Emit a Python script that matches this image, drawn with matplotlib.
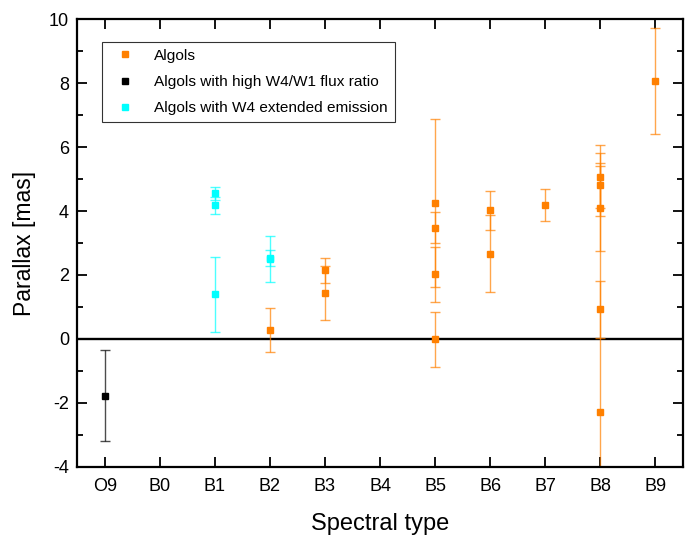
import matplotlib
matplotlib.use("Agg")
import matplotlib.pyplot as plt
from matplotlib.ticker import MultipleLocator
import numpy as np

plt.rcParams['font.family'] = ['Liberation Sans', 'DejaVu Sans']
plt.rcParams['axes.unicode_minus'] = False

spectral_labels = ["O9", "B0", "B1", "B2", "B3", "B4", "B5", "B6", "B7", "B8", "B9"]

# Algols (orange)
algol_type = ["B2", "B3", "B3", "B5", "B5", "B5", "B5", "B6", "B6", "B7",
              "B8", "B8", "B8", "B8", "B8", "B9"]
algol_plx = [0.27, 2.14, 1.44, 4.24, 3.48, 2.02, -0.01, 4.02, 2.67, 4.18,
             5.08, 4.82, 4.08, 0.92, -2.30, 8.07]
algol_err = [0.68, 0.38, 0.85, 2.63, 0.49, 0.86, 0.86, 0.60, 1.20, 0.50,
             1.00, 0.99, 1.32, 0.90, 7.80, 1.66]

# Algols with high W4/W1 flux ratio (black)
high_type = ["O9"]
high_plx = [-1.78]
high_err = [1.43]

# Algols with W4 extended emission (cyan)
ext_type = ["B1", "B1", "B1", "B2", "B2"]
ext_plx = [4.55, 4.18, 1.39, 2.50, 2.52]
ext_err = [0.19, 0.27, 1.17, 0.73, 0.25]

fig = plt.figure(figsize=(6.91, 5.37), dpi=100)
ax = fig.add_axes([0.1119, 0.131, 0.8761, 0.833])

pos = {lab: i for i, lab in enumerate(spectral_labels)}

ax.axhline(0, color='black', lw=1.7, zorder=1)

series = [
    (algol_type, algol_plx, algol_err, '#FF8000', 'Algols'),
    (high_type, high_plx, high_err, '#000000', 'Algols with high W4/W1 flux ratio'),
    (ext_type, ext_plx, ext_err, '#00FFFF', 'Algols with W4 extended emission'),
]
handles = []
for types, vals, errs, col, lab in series:
    xs = [pos[t] for t in types]
    ax.errorbar(xs, vals, yerr=errs, fmt='none', ecolor=col, elinewidth=1.0,
                capsize=3.8, capthick=1.0, alpha=0.7, zorder=2)
    h = ax.plot(xs, vals, ls='none', marker='s', ms=5.0, color=col,
                mec=col, zorder=3, label=lab)[0]
    handles.append(h)

ax.set_xlim(-0.5, 10.5)
ax.set_ylim(-4, 10)
ax.set_xticks(range(len(spectral_labels)))
ax.set_xticklabels(spectral_labels)
ax.yaxis.set_major_locator(MultipleLocator(2))
ax.yaxis.set_minor_locator(MultipleLocator(1))
ax.tick_params(axis='both', which='both', direction='in', top=True, right=True,
               width=1.3, labelsize=13)
ax.tick_params(axis='both', which='major', length=7)
ax.tick_params(axis='y', which='minor', length=4.5)
ax.tick_params(axis='x', which='major', pad=8)
ax.tick_params(axis='y', which='major', pad=6)
for s in ax.spines.values():
    s.set_linewidth(1.6)

ax.set_xlabel('Spectral type', fontsize=17, labelpad=13)
ax.set_ylabel('Parallax [mas]', fontsize=16.5, labelpad=9)

leg = ax.legend(handles=handles, loc='upper left', bbox_to_anchor=(0.0405, 0.95),
                fontsize=11.1, frameon=True, fancybox=False, edgecolor='black',
                handlelength=2.1, handletextpad=0.85, borderpad=0.45,
                labelspacing=0.8, markerscale=0.8, borderaxespad=0)
leg.get_frame().set_linewidth(0.8)

fig.savefig('out.png', dpi=100)
